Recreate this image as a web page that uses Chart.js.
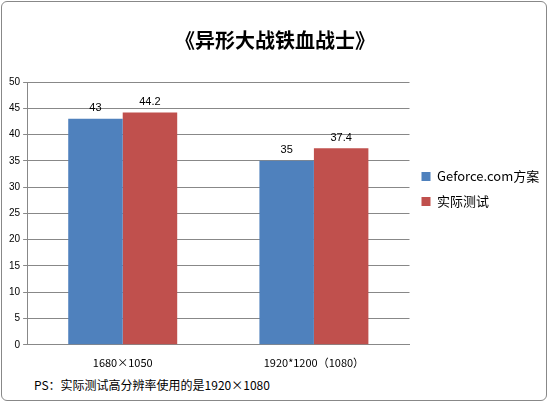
<!DOCTYPE html>
<html><head><meta charset="utf-8">
<script src="https://cdn.jsdelivr.net/npm/chart.js@4"></script>
<style>
html,body{margin:0;padding:0;background:#fff;}
#wrap{position:absolute;left:1px;top:1px;width:546px;height:400px;border:1px solid #888;border-radius:6px;box-sizing:border-box;}
canvas{display:block;}
#note{position:absolute;left:34px;top:376px;font:12px "Noto Sans CJK SC",sans-serif;color:#000;}
</style></head>
<body>
<div id="wrap"><canvas id="c" width="544" height="370"></canvas></div>
<div id="note">PS：实际测试高分辨率使用的是1920×1080</div>
<script>
const categories = ["1680×1050", "1920*1200（1080）"];
const seriesNames = ["Geforce.com方案", "实际测试"];
const geforceValues = [43, 35];
const actualValues = [44.2, 37.4];
const yTicks = [0,5,10,15,20,25,30,35,40,45,50];

const labelPlugin = {
  id: 'vals',
  afterDatasetsDraw(chart) {
    const ctx = chart.ctx;
    ctx.save();
    ctx.font = '11px "Liberation Sans", sans-serif';
    ctx.fillStyle = '#000';
    ctx.textAlign = 'center';
    ctx.textBaseline = 'bottom';
    chart.data.datasets.forEach((ds, i) => {
      chart.getDatasetMeta(i).data.forEach((bar, j) => {
        ctx.fillText(String(ds.data[j]), bar.x, bar.y - 5);
      });
    });
    ctx.restore();
  }
};

new Chart(document.getElementById('c'), {
  type: 'bar',
  data: {
    labels: categories,
    datasets: [
      { label: seriesNames[0], data: geforceValues, backgroundColor: '#4F81BD' },
      { label: seriesNames[1], data: actualValues, backgroundColor: '#C0504D' }
    ]
  },
  options: {
    responsive: false,
    animation: false,
    layout: { padding: { left: 4, right: 2, top: 4, bottom: 0 } },
    datasets: { bar: { categoryPercentage: 0.57, barPercentage: 1 } },
    plugins: {
      title: { display: true, text: '《异形大战铁血战士》', color: '#000',
        font: { family: '"Noto Sans CJK SC", sans-serif', size: 20, weight: 'bold' },
        padding: { top: 22, bottom: 30 } },
      legend: { position: 'right', align: 'center',
        labels: { boxWidth: 9, boxHeight: 9, color: '#000', padding: 12,
          font: { family: '"Noto Sans CJK SC", sans-serif', size: 13 } } },
      tooltip: { enabled: false }
    },
    scales: {
      x: { grid: { display: false, drawTicks: true }, border: { color: '#888' },
        ticks: { color: '#000', font: { family: '"Noto Sans CJK SC", sans-serif', size: 11 } } },
      y: { min: 0, max: 50, afterBuildTicks(ax) { ax.ticks = yTicks.map(v => ({ value: v })); },
        grid: { color: '#888', drawTicks: true, tickLength: 4 }, border: { color: '#888' },
        ticks: { color: '#000', font: { family: '"Liberation Sans", sans-serif', size: 10 } } }
    }
  },
  plugins: [labelPlugin]
});
</script>
</body></html>
